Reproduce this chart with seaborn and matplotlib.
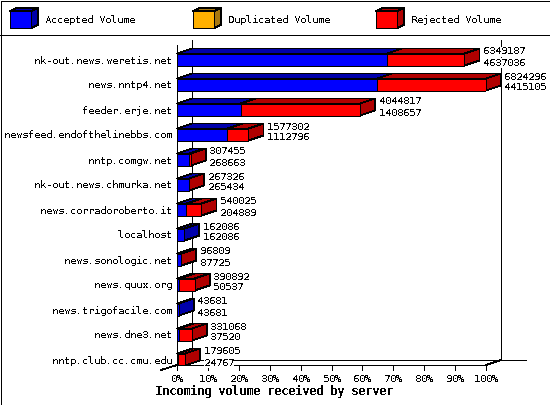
import matplotlib
matplotlib.use("Agg")
import matplotlib.pyplot as plt
import matplotlib.transforms as mtransforms
from matplotlib.lines import Line2D
from matplotlib.patches import Polygon, Rectangle
import seaborn as sns

servers = ["nk-out.news.weretis.net", "news.nntp4.net", "feeder.erje.net",
           "newsfeed.endofthelinebbs.com", "nntp.comgw.net", "nk-out.news.chmurka.net",
           "news.corradoroberto.it", "localhost", "news.sonologic.net", "news.quux.org",
           "news.trigofacile.com", "news.dne3.net", "nntp.club.cc.cmu.edu"]
total_volume = [6349187, 6824296, 4044817, 1577302, 307455, 267326, 540025,
                162086, 96809, 390892, 43681, 331068, 179605]
accepted_volume = [4637036, 4415105, 1408657, 1112796, 268663, 265434, 204889,
                   162086, 87725, 50537, 43681, 37520, 24767]
x_ticks = [0, 10, 20, 30, 40, 50, 60, 70, 80, 90, 100]
legend_names = ["Accepted Volume", "Duplicated Volume", "Rejected Volume"]

BLUE, DARK_BLUE = "#0000ff", "#0000aa"
ORANGE, DARK_ORANGE = "#ffb000", "#a87810"
RED, DARK_RED = "#ff0000", "#b00000"

sns.set_theme(style="white")
plt.rcParams["font.family"] = ["DejaVu Sans Mono"]
plt.rcParams["text.antialiased"] = False
plt.rcParams["text.hinting"] = "native"
plt.rcParams["text.hinting_factor"] = 1
plt.rcParams["patch.antialiased"] = False
plt.rcParams["lines.antialiased"] = False

LW = 0.6  # about one pixel
FS = 7.2
W, H = 550, 405
fig = plt.figure(figsize=(W / 100, H / 100), dpi=100)
to_px = mtransforms.Affine2D().scale(1, -1).translate(0, H)  # pixels, y down

# plot area in pixels
left, right, top, bottom = 177, 486, 45, 365
depth_x, depth_y = 15, 5
row_h, first_row = 25, 59.5

ax = fig.add_axes([left / W, 1 - bottom / H, (right - left) / W, (bottom - top) / H])
ax.patch.set_visible(False)

max_volume = max(total_volume)
total_pct = [v / max_volume * 100 for v in total_volume]
accepted_pct = [v / max_volume * 100 for v in accepted_volume]

bar_w = 0.48
sns.barplot(y=servers, x=total_pct, color=RED, saturation=1, width=bar_w,
            edgecolor="black", linewidth=LW, ax=ax, zorder=3)
sns.barplot(y=servers, x=accepted_pct, color=BLUE, saturation=1, width=bar_w,
            edgecolor="black", linewidth=LW, ax=ax, zorder=3)

ax.set_xlim(0, 100)
ax.set_ylim((bottom - first_row) / row_h, (top - first_row) / row_h)
ax.set_xlabel("")
ax.set_ylabel("")
sns.despine(ax=ax, left=True, bottom=True)
ax.set_xticks(x_ticks)
ax.set_xticklabels([f"{t}%" for t in x_ticks], fontsize=FS, color="black")
ax.tick_params(axis="x", length=0, pad=6.5)
ax.tick_params(axis="y", length=0, pad=3.5, labelsize=FS, labelcolor="black")

# top and side faces of the 3d bars
dx = depth_x / (right - left) * 100
dy = depth_y / row_h


def face(points, color):
    ax.add_patch(Polygon(points, closed=True, facecolor=color, edgecolor="black",
                         linewidth=LW, clip_on=False, zorder=2))


for i, (tot, acc) in enumerate(zip(total_pct, accepted_pct)):
    y0, y1 = i - bar_w / 2, i + bar_w / 2
    face([(0, y0), (acc, y0), (acc + dx, y0 - dy), (dx, y0 - dy)], DARK_BLUE)
    if tot > acc:
        face([(acc, y0), (tot, y0), (tot + dx, y0 - dy), (acc + dx, y0 - dy)], DARK_RED)
    face([(tot, y0), (tot + dx, y0 - dy), (tot + dx, y1 - dy), (tot, y1)],
         DARK_RED if tot > acc else DARK_BLUE)
    # value labels, white background hides the walls
    label_x = tot + dx + 3.5 / (right - left) * 100
    ax.text(label_x, i - 8 / row_h, str(total_volume[i]), fontsize=FS, color="black",
            va="center", ha="left", zorder=4, clip_on=False,
            bbox=dict(facecolor="white", edgecolor="none", pad=0))
    ax.text(label_x, i + 3 / row_h, str(accepted_volume[i]), fontsize=FS, color="black",
            va="center", ha="left", zorder=4, clip_on=False,
            bbox=dict(facecolor="white", edgecolor="none", pad=0))


def px_line(xs, ys):
    fig.add_artist(Line2D(xs, ys, color="black", linewidth=LW, transform=to_px, zorder=-1))


# walls and floor
px_line([left, left], [top, bottom])
px_line([left + depth_x, left + depth_x], [top - depth_y, bottom - depth_y])
px_line([right + depth_x, right + depth_x], [top - depth_y, bottom - depth_y])
px_line([left, right], [bottom, bottom])
px_line([left + depth_x, right + depth_x + 25], [bottom - depth_y, bottom - depth_y])
px_line([left - 16, left], [bottom + 5, bottom])
px_line([right, right + depth_x], [bottom, bottom - depth_y])
for t in x_ticks:
    tick_px = left + (right - left) * t / 100
    px_line([tick_px, tick_px], [bottom, bottom + 5])

fig.text(274 / W, 1 - 392 / H, "Incoming volume received by server", fontsize=8.4,
         fontweight="bold", color="black", ha="center", va="center")

# legend strip
px_line([0, W], [35, 35])
for name, x0, face_c, dark_c in zip(legend_names, [10, 193, 376],
                                    [BLUE, ORANGE, RED], [DARK_BLUE, DARK_ORANGE, DARK_RED]):
    x1, y0, y1 = x0 + 21, 11, 28
    fig.add_artist(Polygon([(x1, y0), (x1 + 7, y0 - 3), (x1 + 7, y1 - 3), (x1, y1)], closed=True,
                           facecolor=dark_c, edgecolor="black", linewidth=LW, transform=to_px))
    fig.add_artist(Polygon([(x0, y0), (x0 + 7, y0 - 3), (x1 + 7, y0 - 3), (x1, y0)], closed=True,
                           facecolor=dark_c, edgecolor="black", linewidth=LW, transform=to_px))
    fig.add_artist(Rectangle((x0, y0), 21, y1 - y0, facecolor=face_c, edgecolor="black",
                             linewidth=LW, transform=to_px))
    fig.text((x0 + 35) / W, 1 - 20 / H, name, fontsize=FS, color="black", ha="left", va="center")

# image border
fig.add_artist(Rectangle((0.5, 0.5), W - 1, H - 1, facecolor="none", edgecolor="black",
                         linewidth=LW, transform=to_px))

fig.savefig("out.png", dpi=100)
